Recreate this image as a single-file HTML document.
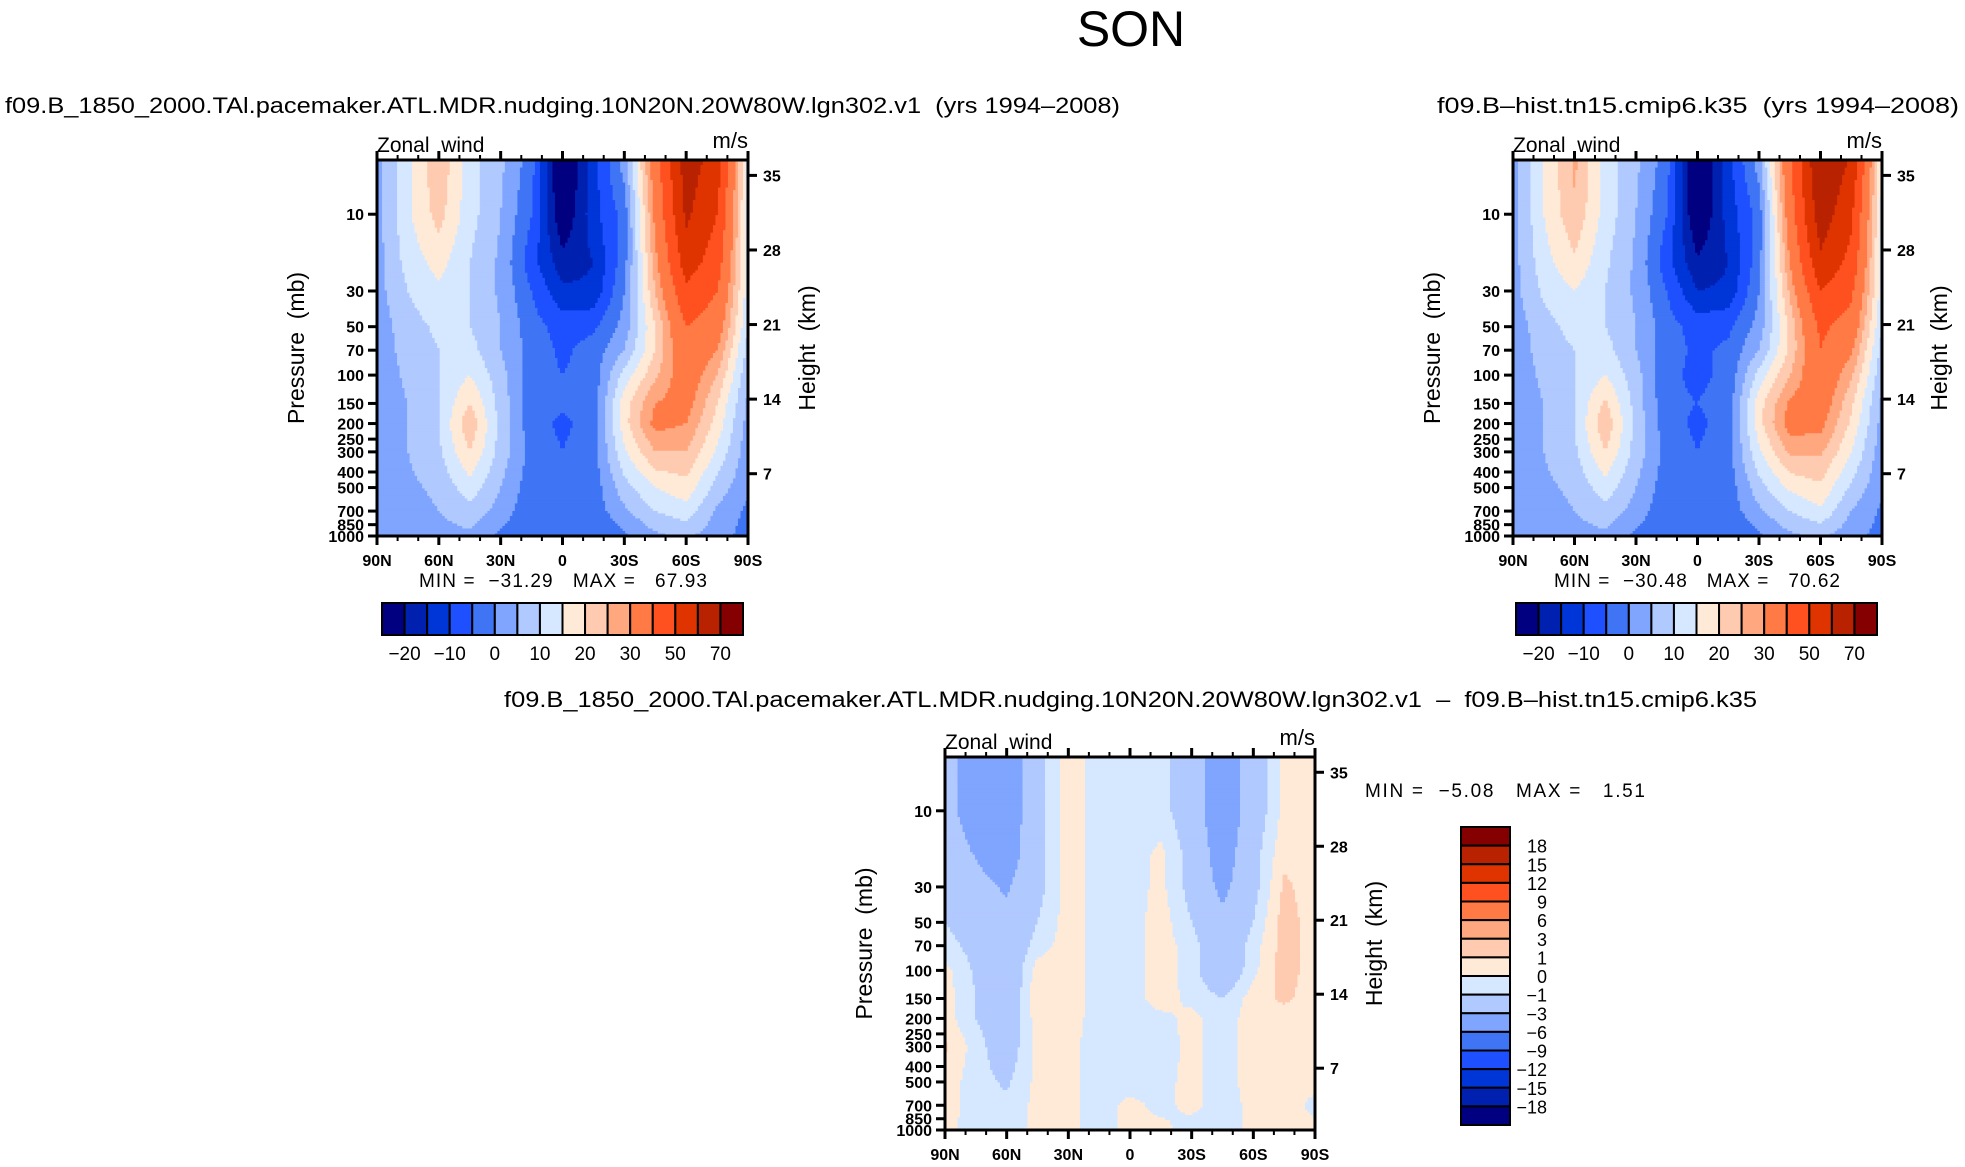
<!DOCTYPE html>
<html><head><meta charset="utf-8"><style>
html,body{margin:0;padding:0;background:#fff;}
svg{display:block;font-family:"Liberation Sans",sans-serif;}
text{white-space:pre;}
</style></head><body>
<svg id="root" width="1965" height="1167" viewBox="0 0 1965 1167" xmlns="http://www.w3.org/2000/svg">
<text x="1131" y="46" font-size="50" text-anchor="middle" font-weight="300">SON</text>
<text x="5" y="113" font-size="22" textLength="1115" lengthAdjust="spacingAndGlyphs">f09.B_1850_2000.TAl.pacemaker.ATL.MDR.nudging.10N20N.20W80W.lgn302.v1  (yrs 1994–2008)</text>
<text x="1437" y="113" font-size="22" textLength="522" lengthAdjust="spacingAndGlyphs">f09.B–hist.tn15.cmip6.k35  (yrs 1994–2008)</text>
<text x="504" y="707" font-size="22" textLength="1253" lengthAdjust="spacingAndGlyphs">f09.B_1850_2000.TAl.pacemaker.ATL.MDR.nudging.10N20N.20W80W.lgn302.v1  –  f09.B–hist.tn15.cmip6.k35</text>
</svg>
<script>
const lats = [90,75,60,45,30,15,0,-15,-30,-45,-60,-75,-90];
const pLevels = [5,10,20,30,50,70,100,150,200,300,500,700,1000];
const levels1 = [-20,-15,-10,-5,0,5,10,15,20,25,30,40,50,60,70];
const levels3 = [-18,-15,-12,-9,-6,-3,-1,0,1,3,6,9,12,15,18];
const cbLabels1 = ["−20","−10","0","10","20","30","50","70"];
const cbLabels3 = ["18","15","12","9","6","3","1","0","−1","−3","−6","−9","−12","−15","−18"];
const pTicks = [10,30,50,70,100,150,200,250,300,400,500,700,850,1000];
const hTicks = [35,28,21,14,7];
const latTickLabels = ["90N","60N","30N","0","30S","60S","90S"];
const stats1 = ["−31.29","67.93"];
const stats2 = ["−30.48","70.62"];
const stats3 = ["−5.08","1.51"];
const grid1 = [
[3,14,24,12,6,-3,-28,-12,2,35,65,55,12],
[3,14,22,12,5,-5,-25,-12,-3,32,62,50,12],
[3,12,17,10,4,-8,-18,-15,-2,28,55,45,12],
[3,10,14,10,4,-5,-14,-14,0,25,48,40,12],
[2,8,11,10,5,-3,-7,-6,2,20,40,35,10],
[2,7,10,12,5,-2,-6,-3,5,20,38,30,8],
[2,6,10,15,7,-3,-5,-3,12,24,35,25,6],
[2,5,10,20,8,-3,-4,-3,18,30,33,20,4],
[2,5,10,24,8,-3,-6,-3,18,32,30,18,3],
[2,5,9,20,8,-2,-5,-2,14,25,25,14,2],
[2,4,6,13,5,-3,-4,-3,8,15,18,8,1],
[1,3,5,8,3,-4,-3,-3,4,10,13,4,-1],
[1,2,3,4,-1,-5,-4,-5,-1,4,6,2,-2]];
const grid2 = [
[3,15,26,13,6,-3,-28,-12,2,38,70,58,14],
[3,15,24,13,5,-5,-26,-13,-3,35,66,52,13],
[3,13,19,11,4,-8,-19,-15,-2,30,58,47,12],
[3,11,15,10,4,-5,-15,-14,0,26,50,42,12],
[2,8,12,10,5,-3,-7,-6,2,21,42,36,10],
[2,7,10,12,5,-3,-6,-4,5,21,40,31,8],
[2,6,10,15,7,-4,-6,-4,12,25,37,26,6],
[2,5,10,21,8,-4,-5,-3,18,31,35,21,4],
[2,5,10,24,8,-3,-6,-3,18,33,32,19,3],
[2,5,9,20,8,-2,-5,-2,14,26,26,15,2],
[2,4,6,13,5,-3,-4,-3,8,16,19,9,1],
[1,3,5,8,3,-4,-3,-3,4,10,14,5,-1],
[1,2,3,4,-1,-5,-4,-5,-1,4,6,2,-2]];
const grid3 = [
[-2,-4.5,-4.5,-1.5,0.5,-0.5,-0.5,-0.5,-2,-4.5,-2,0.3,0.3],
[-2,-4.5,-4.5,-1.5,0.5,-0.5,-0.5,-0.5,-2,-4.5,-2,0.3,0.5],
[-1.5,-3,-4,-1.5,0.5,-0.5,-0.5,0.3,-1.5,-4,-1.5,0.8,0.5],
[-1.5,-2.5,-3.2,-1.5,0.5,-0.5,-0.5,0.3,-1.5,-3.5,-1.5,1.2,0.5],
[-1,-2,-2.5,-1,0.5,-0.5,-0.5,0.5,-1,-2.5,-1,1.5,0.5],
[-0.5,-1.5,-2.5,-0.5,0.5,-0.5,-0.5,0.5,-0.5,-2.5,-0.5,1.5,0.5],
[0.3,-1.2,-2.5,0.5,0.5,-0.5,-0.5,0.5,-0.5,-2.5,-0.3,1.5,0.5],
[0.5,-1,-2.5,0.8,0.5,-0.5,-0.5,0.5,-0.3,-1,0.5,1.2,0.5],
[0.5,-1,-2,0.5,0.5,-0.5,-0.5,-0.3,0.3,-0.5,0.5,0.5,0.5],
[1.2,-0.5,-2,0.5,0.3,-0.5,-0.5,-0.5,0.3,-0.5,0.5,0.5,0.5],
[0.5,-0.5,-1.2,0.3,0.3,-0.5,-0.5,-0.3,0.3,-0.5,0.5,0.5,0.3],
[0.5,-0.5,-0.7,0.3,0.3,-0.5,0.3,-0.3,0.3,-0.5,0.3,0.5,-0.3],
[0.3,-0.5,-0.5,0.3,0.3,-0.5,0.3,0.3,-0.5,-0.5,0.3,0.5,0.3]];

const palette = ["#000080","#0020B0","#0035D8","#1F50FF","#3F75F5","#7FA5FF","#B0C9FF","#D6E8FF","#FFEAD8","#FFCBB0","#FFA880","#FF7A45","#FF5020","#E03400","#B82200","#850000"];
const NS = "http://www.w3.org/2000/svg";
const root = document.getElementById('root');
function mk(tag, attrs, parent){const e=document.createElementNS(NS,tag);for(const k in attrs)e.setAttribute(k,attrs[k]);(parent||root).appendChild(e);return e;}
function colorFor(v, lv){let i=0;while(i<lv.length&&v>=lv[i])i++;return palette[i];}
const LOGTOP = 0.663;
function sample(grid, lat, p){
  const lp=Math.log10(Math.max(5,Math.min(1000,p)));
  let j=0; while(j<pLevels.length-2 && Math.log10(pLevels[j+1])<lp) j++;
  const a=Math.log10(pLevels[j]), b=Math.log10(pLevels[j+1]);
  const ty=Math.max(0,Math.min(1,(lp-a)/(b-a)));
  let fi=(90-lat)/15; let i=Math.min(11,Math.floor(fi)); const tx=fi-i;
  const v00=grid[j][i],v01=grid[j][i+1],v10=grid[j+1][i],v11=grid[j+1][i+1];
  return (v00*(1-tx)+v01*tx)*(1-ty)+(v10*(1-tx)+v11*tx)*ty;
}
function panel(cfg){
  const {x0,y0,w,h,grid,lv,name,lx,hx}=cfg;
  const g=mk('g',{});
  
  
  const xOf=lat=>x0+(90-lat)/180*w;
  const yOf=p=>y0+(Math.log10(p)-LOGTOP)/(3-LOGTOP)*h;
  const ppd=h/(3-LOGTOP);
  const cs=2.5, nx=Math.round(w/cs), ny=Math.round(h/cs);
  const cw=w/nx, ch=h/ny;
  const field=mk('g',{},g);
  
  
  for(let r=0;r<ny;r++){
    const yc=y0+(r+0.5)*ch; const p=Math.pow(10,LOGTOP+(yc-y0)/ppd);
    let start=0, cur=null;
    for(let c=0;c<=nx;c++){
      let col=null;
      if(c<nx){const lat=90-((c+0.5)*cw)/w*180;col=colorFor(sample(grid,lat,p),lv);}
      if(col!==cur){
        if(cur!==null){const rc=mk('rect',{x:(x0+start*cw).toFixed(2),y:(y0+r*ch).toFixed(2),width:((c-start)*cw+0.6).toFixed(2),height:(ch+0.6).toFixed(2),fill:cur},field);
          
          }
        start=c;cur=col;
      }
    }
  }
  const fr=mk('rect',{x:x0,y:y0,width:w,height:h,fill:'none',stroke:'#000','stroke-width':3},g);
  
  
  for(let lat=90;lat>=-90;lat-=10){
    const x=xOf(lat); const maj=(lat%30===0); const L=maj?9:5;
    mk('line',{x1:x,y1:y0+h,x2:x,y2:y0+h+L,stroke:'#000','stroke-width':maj?3:2},g);
    mk('line',{x1:x,y1:y0,x2:x,y2:y0-L,stroke:'#000','stroke-width':maj?3:2},g);
  }
  latTickLabels.forEach((t,k)=>{const lat=90-k*30;const tx=mk('text',{x:xOf(lat),y:y0+h+30,'font-size':16,'font-weight':'bold','text-anchor':'middle'},g);tx.textContent=t;
    
    });
  pTicks.forEach(p=>{const y=yOf(p);mk('line',{x1:x0-9,y1:y,x2:x0,y2:y,stroke:'#000','stroke-width':3},g);
    const tx=mk('text',{x:x0-13,y:y+6,'font-size':16,'font-weight':'bold','text-anchor':'end'},g);tx.textContent=p;
    
    });
  hTicks.forEach(km=>{const yy=y0+15.4/376*h+(35-km)*(h*298.3/376/28);
    mk('line',{x1:x0+w,y1:yy,x2:x0+w+9,y2:yy,stroke:'#000','stroke-width':3},g);
    const tx=mk('text',{x:x0+w+15,y:yy+6,'font-size':16,'font-weight':'bold'},g);tx.textContent=km;
    
    });
  let t=mk('text',{x:x0,y:y0-8,'font-size':21},g);t.textContent='Zonal  wind';
  
  
  t=mk('text',{x:x0+w,y:y0-12,'font-size':22,'text-anchor':'end'},g);t.textContent='m/s';
  
  
  t=mk('text',{x:lx,y:y0+h/2,'font-size':23,'text-anchor':'middle',transform:`rotate(-90 ${lx} ${y0+h/2})`},g);t.textContent='Pressure  (mb)';
  
  
  t=mk('text',{x:hx,y:y0+h/2,'font-size':23,'text-anchor':'middle',transform:`rotate(-90 ${hx} ${y0+h/2})`},g);t.textContent='Height  (km)';
  
  
}
function stats(x,y,st,name,w){
  const t=mk('text',{x:x,y:y,'font-size':19,textLength:w,lengthAdjust:'spacing'});
  t.textContent='MIN =  '+st[0]+'   MAX =   '+st[1];
  
  
}
function hbar(x0,y0,w,h,name){
  const g=mk('g',{});
  
  
  const bw=w/16;
  palette.forEach((c,i)=>{const r=mk('rect',{x:x0+i*bw,y:y0,width:bw,height:h,fill:c,stroke:'#000','stroke-width':2},g);
    
    });
  cbLabels1.forEach((l,k)=>{const t=mk('text',{x:x0+(1+2*k)*bw,y:y0+h+25,'font-size':19,'text-anchor':'middle'},g);t.textContent=l;
    
    });
}
panel({x0:377,y0:160,w:371,h:376,grid:grid1,lv:levels1,name:'left',lx:304,hx:815});
panel({x0:1513,y0:160,w:369,h:376,grid:grid2,lv:levels1,name:'right',lx:1440,hx:1947});
panel({x0:945,y0:757,w:370,h:373,grid:grid3,lv:levels3,name:'difference',lx:872,hx:1382});
stats(419,587,stats1,'left-min-max',288);
stats(1554,587,stats2,'right-min-max',286);
stats(1365,797,stats3,'difference-min-max',280);
hbar(382,603,361,32,'left-colorbar');
hbar(1516,603,361,32,'right-colorbar');
(function(){
  const x0=1461,y0=827,w=49,h=298,bh=h/16;
  const g=mk('g',{});
  
  
  palette.slice().reverse().forEach((c,i)=>{const r=mk('rect',{x:x0,y:y0+i*bh,width:w,height:bh,fill:c,stroke:'#000','stroke-width':2},g);
    
    });
  cbLabels3.forEach((l,k)=>{const t=mk('text',{x:1547,y:y0+(k+1)*bh+7,'font-size':18,'text-anchor':'end'},g);t.textContent=l;
    
    });
})();
</script>
</body></html>
